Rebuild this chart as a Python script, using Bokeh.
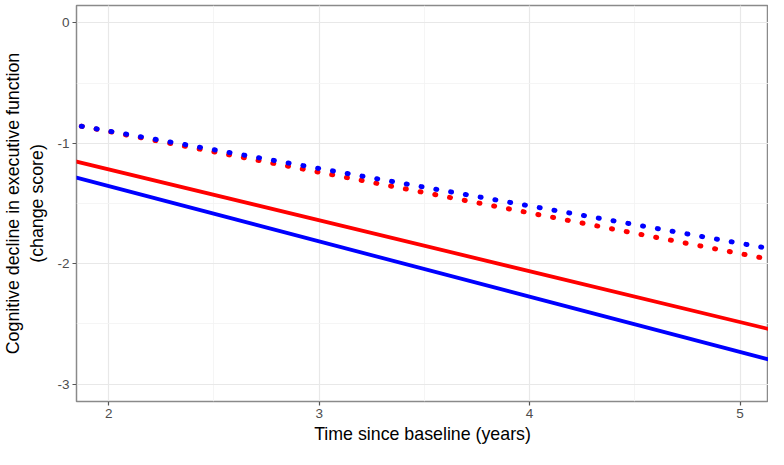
from bokeh.plotting import figure
from bokeh.models import Range1d, SingleIntervalTicker
from bokeh.embed import file_html
from bokeh.resources import INLINE

# Data: fitted change-score lines over time
x_vals = [1.8, 5.2]
red_solid = [-1.132, -2.570]
blue_solid = [-1.264, -2.825]
red_dotted = [-0.834, -1.984]
blue_dotted = [-0.836, -1.893]

x_ticks = [2, 3, 4, 5]
y_ticks = [0, -1, -2, -3]

FONT = "Liberation Sans"

p = figure(width=768, height=449, output_backend="svg", toolbar_location=None,
           x_range=Range1d(1.847, 5.135), y_range=Range1d(-3.145, 0.145),
           min_border_left=75, min_border_right=0, min_border_top=5,
           min_border_bottom=48)

p.background_fill_color = "white"
p.border_fill_color = "white"
p.outline_line_color = "#8a8a8a"
p.outline_line_width = 1.5

p.xaxis.ticker = SingleIntervalTicker(interval=1, num_minor_ticks=2)
p.yaxis.ticker = SingleIntervalTicker(interval=1, num_minor_ticks=2)

for ax in (p.xaxis, p.yaxis):
    ax.axis_line_color = None
    ax.major_tick_line_color = "#555555"
    ax.major_tick_line_width = 1.2
    ax.major_tick_out = 4
    ax.major_tick_in = 0
    ax.minor_tick_line_color = None
    ax.major_label_text_font = FONT
    ax.major_label_text_font_size = "13.5px"
    ax.major_label_text_color = "#4d4d4d"
    ax.major_label_standoff = 3
    ax.axis_label_text_font = FONT
    ax.axis_label_text_font_size = "17.8px"
    ax.axis_label_text_font_style = "normal"
    ax.axis_label_text_color = "#000000"

p.xaxis.axis_label = "Time since baseline (years)"
p.xaxis.axis_label_standoff = 3
p.yaxis.axis_label = "Cognitive decline in executive function\n(change score)"
p.yaxis.axis_label_standoff = 7
p.yaxis.major_label_overrides = {t: str(t) for t in y_ticks}

p.xgrid.grid_line_color = "#e8e8e8"
p.ygrid.grid_line_color = "#e8e8e8"
p.xgrid.grid_line_width = 1.2
p.ygrid.grid_line_width = 1.2
p.xgrid.minor_grid_line_color = "#f2f2f2"
p.ygrid.minor_grid_line_color = "#f2f2f2"
p.xgrid.minor_grid_line_width = 0.8
p.ygrid.minor_grid_line_width = 0.8

p.line(x_vals, red_dotted, line_color="#ff0000", line_width=5,
       line_dash="1 14", line_cap="round")
p.line(x_vals, blue_dotted, line_color="#0000ff", line_width=5,
       line_dash="1 14", line_cap="round")
p.line(x_vals, red_solid, line_color="#ff0000", line_width=3.8)
p.line(x_vals, blue_solid, line_color="#0000ff", line_width=3.8)

open("out.html", "w").write(file_html(p, INLINE))
